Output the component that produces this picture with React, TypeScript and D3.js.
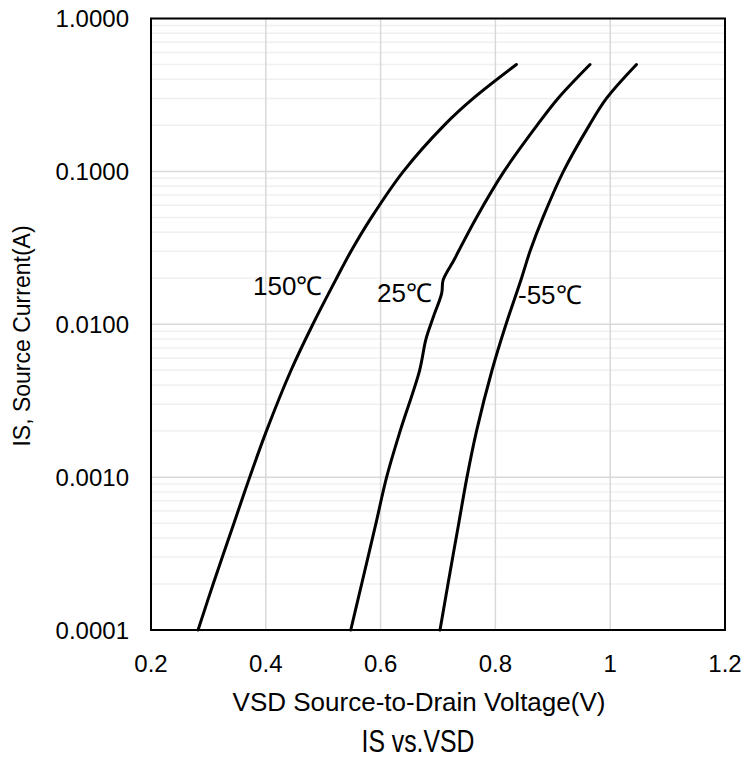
import React from "react";
import * as d3 from "d3";

// IS vs VSD
const current = [0.0001, 0.0002, 0.0005, 0.001, 0.002, 0.005, 0.01, 0.02, 0.03, 0.05, 0.1, 0.2, 0.3, 0.5];
const v150 = [0.282, 0.3083, 0.3445, 0.372, 0.401, 0.444, 0.482, 0.5233, 0.5484, 0.5841, 0.6397, 0.7106, 0.7613, 0.8366];
const vMinus55 = [0.7035, 0.7174, 0.7362, 0.7505, 0.7671, 0.7941, 0.8185, 0.8455, 0.8603, 0.8829, 0.9185, 0.9635, 0.9935, 1.0458];

// 25C has a small kink around 10-20 mA, so it gets its own current list
const current25 = [0.0001, 0.0002, 0.0005, 0.001, 0.002, 0.005, 0.008, 0.0112, 0.016, 0.0195, 0.0263, 0.03, 0.05, 0.1, 0.2, 0.3, 0.5];
const v25 = [0.548, 0.567, 0.592, 0.6105, 0.634, 0.668, 0.679, 0.692, 0.7065, 0.709, 0.7279, 0.7357, 0.7671, 0.815, 0.8725, 0.909, 0.9648];

const xTicks = [0.2, 0.4, 0.6, 0.8, 1, 1.2];
const yTicks = [0.0001, 0.001, 0.01, 0.1, 1];

const font = "'Liberation Sans', Arial, sans-serif";

export default function App() {
    const W = 745;
    const H = 758;
    const plot = { left: 151, right: 725, top: 18.5, bottom: 630 };

    const x = d3.scaleLinear().domain([0.2, 1.2]).range([plot.left, plot.right]);
    const y = d3.scaleLog().domain([0.0001, 1]).range([plot.bottom, plot.top]);

    // minor gridlines: 2..9 in every decade
    const minor: number[] = [];
    for (let e = -4; e < 0; e++) {
        for (let m = 2; m <= 9; m++) minor.push(m * Math.pow(10, e));
    }

    const line = d3.line<[number, number]>()
        .x(d => x(d[0]))
        .y(d => y(d[1]))
        .curve(d3.curveCatmullRom.alpha(0.5));

    const curves = [
        { name: "150", pts: v150.map((v, i) => [v, current[i]] as [number, number]) },
        { name: "25", pts: v25.map((v, i) => [v, current25[i]] as [number, number]) },
        { name: "-55", pts: vMinus55.map((v, i) => [v, current[i]] as [number, number]) },
    ];

    return (
        <svg width={W} height={H} style={{ position: "absolute", left: 0, top: 0, background: "#fff" }}>
            {/* minor horizontal grid */}
            {minor.map((m, i) => (
                <line key={"m" + i} x1={plot.left} x2={plot.right} y1={y(m)} y2={y(m)} stroke="#f0f0f0" strokeWidth={1.5} />
            ))}
            {/* major horizontal grid */}
            {yTicks.map((t, i) => (
                <line key={"h" + i} x1={plot.left} x2={plot.right} y1={y(t)} y2={y(t)} stroke="#d9d9d9" strokeWidth={1.5} />
            ))}
            {/* vertical grid */}
            {xTicks.map((t, i) => (
                <line key={"v" + i} x1={x(t)} x2={x(t)} y1={plot.top} y2={plot.bottom} stroke="#d9d9d9" strokeWidth={1.5} />
            ))}

            {/* curves */}
            {curves.map(c => (
                <path key={c.name} d={line(c.pts) || ""} fill="none" stroke="#000" strokeWidth={3} strokeLinecap="round" />
            ))}

            {/* plot border */}
            <rect x={plot.left} y={plot.top} width={plot.right - plot.left} height={plot.bottom - plot.top}
                fill="none" stroke="#000" strokeWidth={2} />

            {/* curve labels */}
            <g style={{ fontFamily: font, fontSize: "26px" }} fill="#000">
                <text x={253} y={295}>150℃</text>
                <text x={377} y={302}>25℃</text>
                <text x={518} y={304}>-55℃</text>
            </g>

            {/* y tick labels */}
            {yTicks.map((t, i) => (
                <text key={"yl" + i} x={129} y={y(t) + 8.5} textAnchor="end"
                    style={{ fontFamily: font, fontSize: "24px" }}>
                    {d3.format(".4f")(t)}
                </text>
            ))}

            {/* x tick labels */}
            {xTicks.map((t, i) => (
                <text key={"xl" + i} x={x(t)} y={672} textAnchor="middle"
                    style={{ fontFamily: font, fontSize: "24px" }}>
                    {d3.format("")(t)}
                </text>
            ))}

            {/* axis titles */}
            <text x={419} y={711} textAnchor="middle" style={{ fontFamily: font, fontSize: "26px" }}>
                VSD Source-to-Drain Voltage(V)
            </text>
            <text transform="rotate(-90)" x={-336} y={30} textAnchor="middle" style={{ fontFamily: font, fontSize: "23px" }}>
                IS, Source Current(A)
            </text>

            {/* chart title */}
            <text transform="translate(418,752) scale(0.8,1)" textAnchor="middle" style={{ fontFamily: font, fontSize: "31px" }}>
                IS vs.VSD
            </text>
        </svg>
    );
}
